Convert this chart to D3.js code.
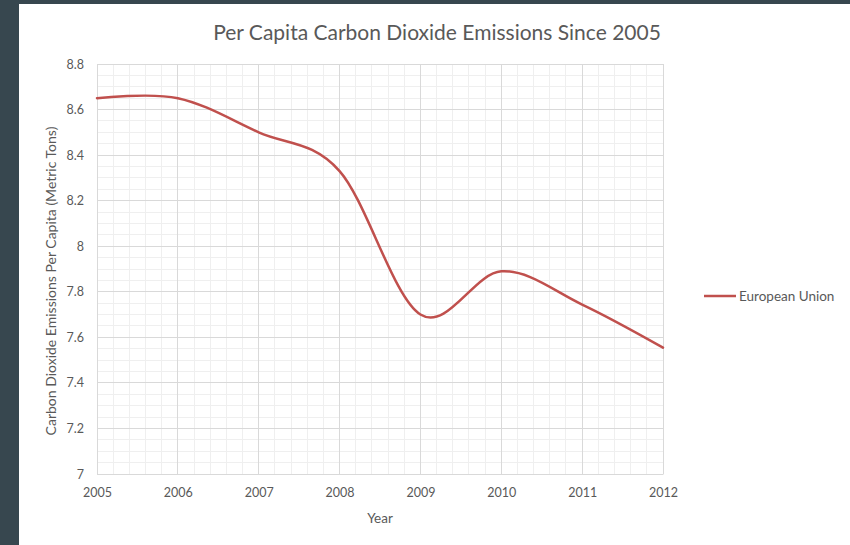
<!DOCTYPE html>
<html>
<head>
<meta charset="utf-8">
<script src="https://cdn.jsdelivr.net/npm/d3@7"></script>
<style>
  html, body { margin: 0; padding: 0; background: #37474f; }
  svg { display: block; }
</style>
</head>
<body>
<svg id="chart" width="850" height="545"></svg>
<script>
// Per capita CO2 emissions, European Union (metric tons)
const years = [2005, 2006, 2007, 2008, 2009, 2010, 2011, 2012];
const euValues = [8.65, 8.65, 8.50, 8.33, 7.70, 7.89, 7.744, 7.555];
const yTicks = [7, 7.2, 7.4, 7.6, 7.8, 8, 8.2, 8.4, 8.6, 8.8];
const seriesName = "European Union";
const titleText = "Per Capita Carbon Dioxide Emissions Since 2005";
const xTitle = "Year";
const yTitle = "Carbon Dioxide Emissions Per Capita (Metric Tons)";

const svg = d3.select("#chart");
const font = "Lato, 'Open Sans', sans-serif";
const textColor = "#595959";

// white card
svg.append("rect").attr("x", 19).attr("y", 4).attr("width", 831).attr("height", 541).attr("fill", "#ffffff");

const plot = { left: 97, right: 663, top: 64, bottom: 474 };

const x = d3.scaleLinear().domain([2005, 2012]).range([plot.left, plot.right]);
const y = d3.scaleLinear().domain([7, 8.8]).range([plot.bottom, plot.top]);

// minor gridlines
const g = svg.append("g");
const minorX = d3.range(2005, 2012.0001, 0.2).map(v => +v.toFixed(1));
const minorY = d3.range(7, 8.8001, 0.05).map(v => +v.toFixed(2));
g.selectAll("line.mx").data(minorX).join("line")
  .attr("x1", d => x(d)).attr("x2", d => x(d))
  .attr("y1", plot.top).attr("y2", plot.bottom)
  .attr("stroke", "#efefef").attr("stroke-width", 1).attr("shape-rendering", "crispEdges");
g.selectAll("line.my").data(minorY).join("line")
  .attr("x1", plot.left).attr("x2", plot.right)
  .attr("y1", d => y(d)).attr("y2", d => y(d))
  .attr("stroke", "#efefef").attr("stroke-width", 1).attr("shape-rendering", "crispEdges");

// major gridlines
g.selectAll("line.Mx").data(years).join("line")
  .attr("x1", d => x(d)).attr("x2", d => x(d))
  .attr("y1", plot.top).attr("y2", plot.bottom)
  .attr("stroke", "#d9d9d9").attr("stroke-width", 1).attr("shape-rendering", "crispEdges");
g.selectAll("line.My").data(yTicks).join("line")
  .attr("x1", plot.left).attr("x2", plot.right)
  .attr("y1", d => y(d)).attr("y2", d => y(d))
  .attr("stroke", "#d9d9d9").attr("stroke-width", 1).attr("shape-rendering", "crispEdges");

// axes
const xAxis = d3.axisBottom(x).tickValues(years).tickFormat(d3.format("d")).tickSize(0).tickPadding(14);
const yAxis = d3.axisLeft(y).tickValues(yTicks).tickFormat(d => d3.format("")(d)).tickSize(0).tickPadding(13);

const gx = svg.append("g").attr("transform", `translate(0,${plot.bottom})`).call(xAxis);
gx.select(".domain").attr("stroke", "#d9d9d9");
gx.selectAll("text").attr("fill", textColor).style("font-family", font).style("font-size", "12.5px");

const gy = svg.append("g").attr("transform", `translate(${plot.left},0)`).call(yAxis);
gy.select(".domain").attr("stroke", "#d9d9d9");
gy.selectAll("text").attr("fill", textColor).style("font-family", font).style("font-size", "12.5px");

// series line (smoothed)
const line = d3.line()
  .x((d, i) => x(years[i]))
  .y(d => y(d))
  .curve(d3.curveCardinal.tension(0));
svg.append("path").datum(euValues)
  .attr("d", line)
  .attr("fill", "none")
  .attr("stroke", "#c0504d")
  .attr("stroke-width", 2.5)
  .attr("stroke-linecap", "round");

// title
svg.append("text").attr("x", 437).attr("y", 40).attr("text-anchor", "middle")
  .attr("fill", textColor).style("font-family", font).style("font-size", "21px")
  .text(titleText);

// axis titles
svg.append("text").attr("x", 380).attr("y", 523).attr("text-anchor", "middle")
  .attr("fill", textColor).style("font-family", font).style("font-size", "13.5px")
  .text(xTitle);
svg.append("text").attr("transform", `translate(56,${(plot.top + plot.bottom) / 2 + 12}) rotate(-90)`)
  .attr("text-anchor", "middle")
  .attr("fill", textColor).style("font-family", font).style("font-size", "14px")
  .text(yTitle);

// legend
const lg = svg.append("g").attr("transform", "translate(704,296)");
lg.append("line").attr("x1", 0).attr("x2", 32).attr("y1", 0).attr("y2", 0)
  .attr("stroke", "#c0504d").attr("stroke-width", 2.5);
lg.append("text").attr("x", 35).attr("y", 5)
  .attr("fill", textColor).style("font-family", font).style("font-size", "13.5px")
  .text(seriesName);
</script>
</body>
</html>
